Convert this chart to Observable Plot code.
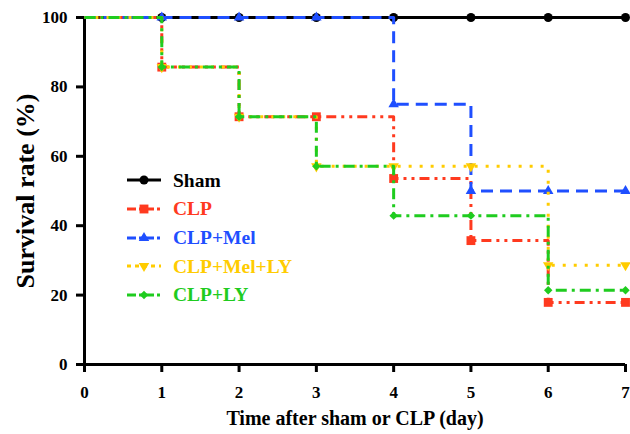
<!DOCTYPE html>
<html><head><meta charset="utf-8">
<script src="https://cdn.jsdelivr.net/npm/d3@7"></script>
<script src="https://cdn.jsdelivr.net/npm/@observablehq/plot@0.6"></script>
<style>
body{margin:0;background:#fff;}
#wrap{position:relative;width:630px;height:434px;}
#legend{position:absolute;left:127px;top:166px;font-family:"Liberation Serif","Times New Roman",serif;font-weight:bold;font-size:19.5px;line-height:1;}
.row{display:flex;align-items:center;height:28.7px;}
.row svg{margin-right:12px;overflow:visible}
</style></head><body><div id="wrap"><div id="legend"></div></div>
<script>
// ---- data ----
const days = [0, 1, 2, 3, 4, 5, 6, 7];
const groups = ["Sham", "CLP", "CLP+Mel", "CLP+Mel+LY", "CLP+LY"];
const sham     = [100, 100, 100, 100, 100, 100, 100, 100];
const clp      = [100, 85.7, 71.4, 71.4, 53.6, 35.7, 17.9, 17.9];
const clpMel   = [100, 100, 100, 100, 75, 50, 50, 50];
const clpMelLy = [100, 85.7, 71.4, 57.1, 57.1, 57.1, 28.6, 28.6];
const clpLy    = [100, 85.7, 71.4, 57.1, 42.9, 42.9, 21.4, 21.4];
const xTicks = [0, 1, 2, 3, 4, 5, 6, 7];
const yTicks = [0, 20, 40, 60, 80, 100];
const xTitle = "Time after sham or CLP (day)";
const yTitle = "Survival rate (%)";

// ---- styles ----
const series = [sham, clp, clpMel, clpMelLy, clpLy];
const colors = ["#000000", "#ff3a1f", "#1f4fff", "#ffcc00", "#1fcc1f"];
const dashes = [null, "10,5,3,5,3,5", "12,7", "3,8", "11,5,3,5"];
const symbols = ["circle", "square", "triangle", "triangle", "diamond2"];
const d3symbols = [d3.symbolCircle, d3.symbolSquare, d3.symbolTriangle, d3.symbolTriangle, d3.symbolDiamond2];
const rotations = [0, 0, 0, 180, 0];
const radii = [4.5, 5, 3.9, 3.9, 3.8];
const font = "'Liberation Serif','Times New Roman',serif";

const marks = [
  Plot.ruleY([0], {strokeWidth: 3}),
  Plot.ruleX([0], {strokeWidth: 3}),
  Plot.axisX({ticks: xTicks, tickSize: 8, strokeWidth: 3, tickPadding: 13, label: null, fontSize: 17, fontWeight: "bold", tickFormat: d => String(d)}),
  Plot.axisY({ticks: yTicks, tickSize: 8, strokeWidth: 3, tickPadding: 9, label: null, fontSize: 17, fontWeight: "bold", tickFormat: d => String(d)})
];

groups.forEach((g, k) => {
  const rows = days.map((d, i) => ({day: d, rate: series[k][i], group: g}));
  marks.push(Plot.line(rows, {x: "day", y: "rate", curve: "step-after", stroke: colors[k], strokeWidth: 3, strokeDasharray: dashes[k] || undefined, strokeLinecap: "butt"}));
  marks.push(Plot.dot(rows.filter(r => r.day > 0), {x: "day", y: "rate", symbol: symbols[k], r: radii[k], fill: colors[k], stroke: "none", rotate: rotations[k]}));
});

marks.push(Plot.text([xTitle], {text: d => d, frameAnchor: "bottom", textAnchor: "middle", dy: 54, fontSize: 20, fontWeight: "bold", lineAnchor: "middle"}));
marks.push(Plot.text([yTitle], {text: d => d, frameAnchor: "left", textAnchor: "middle", dx: -59, rotate: -90, fontSize: 26, fontWeight: "bold", lineAnchor: "middle"}));

const chart = Plot.plot({
  width: 630, height: 434,
  marginLeft: 84, marginRight: 5, marginTop: 17, marginBottom: 70,
  x: {domain: [0, 7]},
  y: {domain: [0, 100]},
  style: {fontFamily: font, fontWeight: "bold", color: "black", background: "white", overflow: "visible"},
  marks
});
document.getElementById("wrap").prepend(chart);

// ---- legend ----
const legend = d3.select("#legend");
groups.forEach((g, k) => {
  const row = legend.append("div").attr("class", "row");
  const svg = row.append("svg").attr("width", 34).attr("height", 20);
  svg.append("line").attr("x1", 0).attr("x2", 34).attr("y1", 10).attr("y2", 10)
    .attr("stroke", colors[k]).attr("stroke-width", 3)
    .attr("stroke-dasharray", dashes[k] ? (k === 3 ? "4,4" : "9,3,3,3") : null);
  svg.append("path").attr("d", d3.symbol(d3symbols[k], Math.PI * radii[k] * radii[k])())
    .attr("transform", `translate(17,10) rotate(${rotations[k]})`)
    .attr("fill", colors[k]);
  row.append("span").text(g).style("color", colors[k]);
});
</script></body></html>
